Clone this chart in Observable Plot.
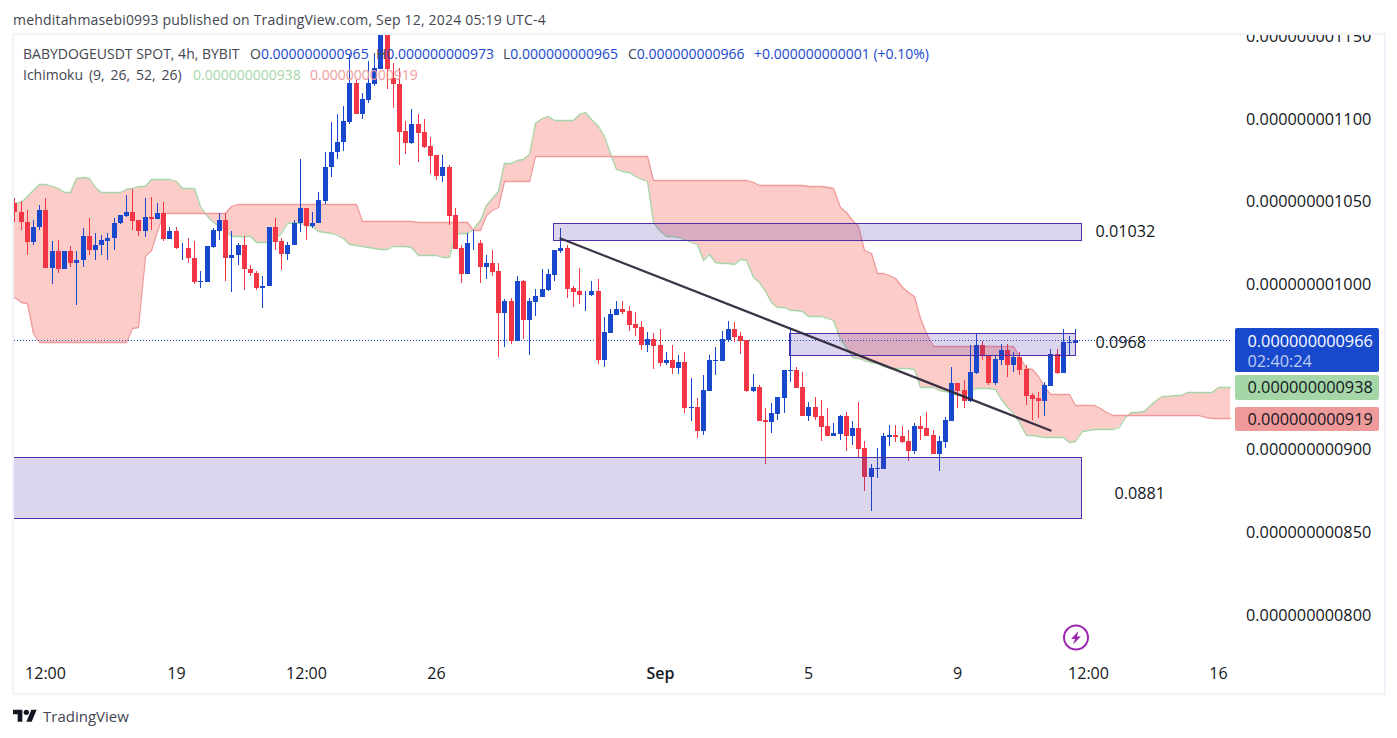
<!DOCTYPE html>
<html>
<head>
<meta charset="utf-8">
<script src="https://cdn.jsdelivr.net/npm/d3@7"></script>
<script src="https://cdn.jsdelivr.net/npm/@observablehq/plot@0.6"></script>
<style>
  html,body{margin:0;padding:0;background:#fff;}
  body{width:1397px;height:738px;position:relative;overflow:hidden;font-family:"Open Sans",sans-serif;color:#131722;}
  #head{position:absolute;left:13px;top:10px;font-size:14px;letter-spacing:.19px;line-height:19px;color:#434651;white-space:nowrap;}
  #chart{position:absolute;left:0;top:34px;}
  #chart svg{overflow:hidden !important;display:block;}
  #frame{position:absolute;left:12px;top:33px;width:1370px;height:658px;border:2px solid #f0f3fa;pointer-events:none;}
  .lg{position:absolute;font-size:14px;line-height:20px;white-space:nowrap;color:#434651;}
  .lg b{font-weight:400;color:#1848cc;}
  #foot{position:absolute;left:43px;top:706px;font-size:15px;line-height:20px;color:#434651;}
</style>
</head>
<body>
<div id="head">mehditahmasebi0993 published on TradingView.com, Sep 12, 2024 05:19 UTC-4</div>
<div id="chart"></div>
<div class="lg" style="left:23px;top:44px">BABYDOGEUSDT SPOT, 4h, BYBIT</div>
<div class="lg" style="left:250px;top:44px">O<b>0.000000000965</b></div>
<div class="lg" style="left:376px;top:44px">H<b>0.000000000973</b></div>
<div class="lg" style="left:503px;top:44px">L<b>0.000000000965</b></div>
<div class="lg" style="left:628px;top:44px">C<b>0.000000000966</b></div>
<div class="lg" style="left:754px;top:44px"><b>+0.000000000001 (+0.10%)</b></div>
<div class="lg" style="left:23px;top:65px;word-spacing:2.2px">Ichimoku (9, 26, 52, 26)</div>
<div class="lg" style="left:193px;top:65px;color:#a5d6a7">0.000000000938</div>
<div class="lg" style="left:310px;top:65px;color:#ef9a9a">0.000000000919</div>
<svg style="position:absolute;left:1062px;top:624px" width="28" height="28" viewBox="0 0 28 28"><circle cx="14" cy="13.5" r="12" fill="none" stroke="#9c27b0" stroke-width="2"/><path d="M16.5 7 L9 15 L13 15 L11 20.5 L19 12.5 L15 12.5 Z" fill="#9c27b0"/></svg>
<div id="frame"></div>
<svg style="position:absolute;left:13px;top:707px" width="24" height="18" viewBox="0 0 36 27"><path d="M14 22H7V11H0V4h14v18zM28 22h-8l7.5-18h8L28 22z" fill="#131722"/><circle cx="20" cy="8" r="4" fill="#131722"/></svg>
<div id="foot">TradingView</div>
<script>
// prices are in units of 1e-12 USDT; bars are 4h candles, counted from the first visible one
const opens=[1048.8,1043.6,1037.5,1025.6,1034.1,1044.8,1009.3,1019.8,1008.7,1019.8,
1012.3,1014.3,1028.9,1020.2,1023.2,1026.2,1027.5,1036.7,1041.2,1043.4,
1038.7,1031.7,1040.4,1039.5,1042.8,1027.2,1031.9,1021.4,1021.6,1015.6,
1001.2,1001.2,1022.4,1032.1,1038.7,1015.4,1017.2,1023.4,1008.9,1006.5,
997.2,998.4,1034.3,1025.8,1018.2,1023.2,1036.5,1045.8,1035.1,1036.5,
1050.0,1070.4,1079.5,1085.5,1098.0,1121.6,1102.9,1111.3,1121.0,1130.1,
1158,1124.4,1121.0,1092.6,1085.1,1096.6,1092.0,1083.3,1077.8,1065.4,
1070.6,1041.8,1021.8,1006.1,1024.4,1024.8,1010.3,1012.7,1007.9,982.5,
989.8,965.6,1001.8,978.3,989.2,992.2,996.4,1005.5,1020.0,1021.8,
997.6,995.8,993.6,993.4,995.8,954.1,970.4,981.3,984.9,983.7,
975.8,974.0,963.1,966.8,963.1,952.2,954.1,949.2,952.9,925.0,
925.6,911.1,935.3,953.5,953.5,966.2,972.8,968.6,966.2,935.3,
937.7,917.8,916.6,921.4,931.1,947.4,948.0,937.7,920.2,925.6,
920.2,914.1,908.1,909.3,920.2,908.1,912.9,900.8,883.3,888.1,
888.1,907.5,908.7,908.1,905.1,899.0,914.1,912.9,908.7,897.2,
904.5,917.2,940.2,935.9,929.3,946.2,963.1,957.1,940.2,954.1,
960.1,951.0,955.9,948.6,932.9,931.1,929.3,938.3,957.7,946.2,
964.5,964.3];
const closes=[1043.2,1037.1,1025.6,1034.3,1044.8,1009.3,1019.8,1008.7,1019.8,1012.3,
1014.3,1028.9,1020.2,1023.4,1026.4,1027.7,1036.7,1041.6,1043.4,1038.3,
1031.7,1040.4,1039.5,1042.8,1027.2,1031.9,1021.4,1021.8,1015.4,1001.2,
1001.6,1022.8,1032.7,1038.7,1015.4,1017.4,1023.4,1008.7,1006.3,997.2,
998.8,1034.3,1025.6,1018.2,1023.4,1036.7,1045.8,1035.1,1036.7,1050.6,
1070.6,1079.7,1085.7,1098.4,1121.6,1102.9,1111.7,1121.6,1130.5,1158,
1130.1,1120.6,1092.0,1085.3,1096.6,1091.4,1082.9,1077.4,1065.4,1070.6,
1041.2,1021.2,1006.1,1024.8,1024.8,1010.3,1012.7,1007.3,982.5,989.8,
965.6,1001.8,978.3,989.8,992.8,997.0,1006.1,1020.6,1021.8,997.0,
995.2,993.4,994.0,995.8,954.1,971.0,981.9,984.9,983.1,975.2,
973.4,963.1,966.8,962.5,952.2,954.1,949.2,952.9,925.0,925.6,
911.1,935.9,954.1,954.1,966.8,972.8,968.0,965.6,935.3,937.7,
917.2,916.6,922.0,931.7,948.0,948.0,937.1,920.2,925.6,919.6,
913.5,908.1,909.9,920.2,908.1,912.9,900.2,883.3,888.7,888.7,
908.1,908.7,907.5,904.5,899.0,914.1,912.3,908.1,897.2,905.1,
917.8,940.2,935.3,929.3,946.8,963.1,956.5,940.2,954.7,960.1,
951.0,955.9,948.0,932.3,930.5,929.3,938.9,957.7,946.2,964.9,
964.9,966.2];
const highs=[1051.8,1049.8,1044.4,1038.7,1047.8,1051.8,1025.8,1026.6,1019.8,1023.0,
1019.8,1033.9,1040.0,1030.9,1029.7,1030.7,1039.8,1041.6,1053.9,1057.5,
1038.7,1051.8,1052.7,1048.8,1049.2,1034.5,1034.5,1024.8,1027.9,1025.8,
1007.9,1022.8,1033.7,1042.8,1042.8,1032.1,1024.6,1029.1,1011.3,1007.7,
1004.9,1034.3,1040.0,1027.6,1025.2,1038.7,1075.4,1045.8,1043.6,1055.5,
1079.7,1097.8,1102.9,1107.5,1138.5,1123.8,1115.3,1134.7,1139.5,1165,
1165,1133.5,1130.5,1098.6,1105.9,1102.6,1099.6,1088.7,1077.8,1078.0,
1071.8,1046.0,1023.6,1030.9,1032.7,1026.6,1017.6,1020.6,1012.7,991.0,
991.6,1004.9,1002.5,991.6,997.0,1009.1,1009.1,1020.6,1033.9,1023.6,
998.8,1009.7,995.8,1001.8,1003.1,980.1,984.9,989.8,989.8,986.7,
983.1,977.6,971.0,970.4,972.8,958.9,963.1,957.1,958.9,943.2,
931.1,945.0,957.1,961.9,971.6,977.6,977.0,971.0,966.2,945.6,
938.9,925.0,928.1,931.7,948.0,973.4,949.8,946.8,928.7,931.7,
929.9,925.0,915.9,920.8,922.6,917.2,928.7,905.1,891.2,900.8,
909.9,914.8,914.8,914.1,911.7,915.9,920.2,922.6,911.7,908.1,
919.6,949.8,940.2,942.0,963.1,970.2,965.5,957.1,956.5,963.7,
963.7,958.9,958.9,951.0,934.1,934.7,940.8,960.7,960.7,972.8,
968.6,972.8];
const lows=[1037.7,1032.3,1017.2,1023.2,1032.3,1009.3,1000.2,1006.3,1008.7,1009.9,
986.9,1009.9,1017.6,1014.5,1017.2,1014.5,1020.2,1036.3,1040.4,1032.7,
1029.1,1028.1,1032.3,1039.5,1026.2,1027.2,1020.8,1014.5,1012.9,1000.2,
997.2,1001.2,1021.8,1026.6,1001.8,994.8,1011.3,996.0,1004.5,996.0,
985.1,998.4,1020.2,1008.1,1014.5,1023.2,1031.1,1026.6,1033.9,1036.5,
1048.2,1064.8,1075.8,1080.5,1096.8,1102.9,1099.8,1109.5,1119.8,1130.1,
1118.0,1106.5,1072.0,1078.7,1084.5,1073.8,1082.1,1066.6,1062.9,1061.7,
1035.7,1021.2,1000.6,1006.1,1020.6,1000.6,1003.1,1004.9,955.9,961.9,
963.7,965.6,966.8,957.1,980.7,992.2,995.8,1001.8,1018.8,991.6,
986.1,987.9,983.7,992.8,951.6,949.8,970.4,981.3,981.9,971.6,
968.6,960.1,958.9,948.6,950.4,951.0,945.6,945.6,922.0,917.2,
906.9,908.7,935.3,945.0,953.5,964.9,964.9,957.7,934.7,934.7,
917.2,891.2,909.9,917.8,922.0,940.7,937.1,920.2,917.2,917.8,
905.1,908.1,908.1,905.7,899.0,902.7,895.4,874.8,862.7,882.7,
888.1,902.1,904.5,903.9,893.0,897.2,905.7,908.1,897.2,886.9,
900.8,917.2,925.0,925.0,928.7,945.6,954.1,938.9,938.9,951.0,
943.8,946.8,945.0,926.9,917.8,919.0,920.2,938.3,945.6,946.2,
957.1,964.3];
const spanA=[1048.8,1049.4,1052.9,1056.9,1060.3,1060.3,1059.1,1057.7,1055.7,1055.7,
1063.9,1064.9,1063.9,1058.7,1055.7,1055.7,1055.7,1055.7,1057.3,1057.7,
1059.3,1059.3,1063.5,1063.5,1063.5,1063.3,1061.9,1057.9,1057.9,1057.9,
1046.8,1040.8,1037.7,1034.7,1032.7,1028.9,1028.9,1028.9,1028.9,1025.6,
1025.4,1025.4,1027.5,1030.5,1036.7,1037.7,1036.7,1035.7,1034.7,1031.7,
1031.3,1030.7,1029.5,1027.5,1024.2,1023.4,1022.8,1022.0,1021.4,1020.8,
1021.0,1022.6,1022.6,1022.6,1022.4,1017.6,1017.6,1017.4,1017.2,1016.4,
1016.2,1030.3,1030.5,1030.5,1033.1,1038.7,1047.8,1051.8,1056.3,1073.0,
1073.0,1074.8,1075.4,1078.5,1097.2,1100.4,1101.4,1099.0,1099.0,1099.0,
1099.0,1102.6,1103.7,1100.0,1095.2,1089.7,1079.1,1069.4,1068.4,1067.6,
1065.4,1063.7,1062.5,1037.7,1031.7,1028.7,1028.7,1028.5,1027.0,1025.6,
1024.2,1014.6,1017.8,1013.1,1012.9,1012.9,1011.7,1014.8,1014.3,1004.1,
1001.4,995.8,989.1,985.9,985.7,984.1,984.1,983.7,980.3,980.3,
980.3,979.1,977.9,966.6,961.5,955.7,955.1,953.7,952.5,952.1,
950.6,949.0,949.0,949.0,949.0,948.2,937.5,937.3,937.3,935.9,
934.9,933.7,932.9,932.9,934.9,936.7,936.7,936.7,936.3,930.5,
925.8,921.8,916.2,908.7,908.3,907.9,907.5,907.3,907.1,907.1,
904.1,904.7,911.1,911.7,911.9,912.1,912.3,912.5,913.7,919.2,
922.4,922.4,922.8,926.6,929.9,931.9,932.3,932.7,932.9,934.7,
934.7,934.7,934.7,934.7,937.5,937.7,937.7];
const spanB=[992.0,988.9,988.3,970.2,965.0,965.0,965.0,965.0,965.0,965.0,
965.0,965.0,965.0,965.0,965.0,965.0,965.0,965.0,965.0,973.2,
973.8,1016.6,1020.6,1031.7,1042.8,1042.8,1042.8,1042.8,1042.8,1042.8,
1042.8,1042.8,1042.8,1042.8,1042.8,1046.8,1048.4,1048.4,1048.4,1048.4,
1048.4,1048.4,1048.4,1048.4,1048.4,1048.4,1048.4,1048.4,1048.4,1048.4,
1048.4,1048.4,1048.4,1048.4,1048.4,1048.0,1037.9,1037.9,1037.9,1037.9,
1037.9,1037.9,1037.9,1037.9,1037.9,1037.1,1037.1,1037.1,1037.1,1037.1,
1037.1,1037.1,1037.1,1037.1,1032.5,1032.5,1041.6,1044.4,1046.6,1062.3,
1062.3,1062.3,1062.3,1062.3,1077.4,1077.4,1077.4,1077.4,1077.4,1077.4,
1077.4,1077.4,1077.4,1077.4,1077.4,1077.4,1077.4,1077.4,1077.4,1077.4,
1077.4,1077.4,1077.4,1062.9,1062.9,1062.9,1062.9,1062.9,1062.9,1062.9,
1062.9,1062.9,1062.9,1062.9,1062.9,1062.9,1062.9,1062.9,1062.9,1061.3,
1059.9,1059.9,1059.9,1059.9,1059.9,1059.9,1059.9,1059.9,1059.1,1059.1,
1059.1,1058.3,1057.9,1046.2,1043.2,1038.7,1034.7,1020.6,1018.4,1006.5,
1006.5,1005.1,1003.5,998.0,994.8,992.4,979.3,970.2,962.3,962.3,
962.3,962.3,962.3,962.3,962.3,962.3,962.3,962.3,962.3,962.3,
962.3,962.3,956.1,949.0,948.6,944.0,938.3,933.3,933.3,933.3,
933.3,926.6,926.6,926.6,926.6,924.8,922.6,920.6,920.6,920.6,
920.6,920.6,920.6,920.6,920.6,920.6,920.6,920.6,920.6,920.6,
920.6,920.6,919.6,918.6,918.6,918.6,918.6];

const xTickBars=[5,26,47,68,128,152,173,194];
const xTickText=["12:00","19","12:00","26","5","9","12:00","16"];
const monthBars=[104];
const monthText=["Sep"];
const yTicks=[1150,1100,1050,1000,900,850,800];
const lastPrice=966;

const boxBar1=[86.8,124.9,-1];
const boxBar2=[171.9,171,171.9];
const boxTop=[1036.7,970.2,895.2];
const boxBottom=[1026.4,956.9,858.3];
const noteBar=[174.2,174.2,177.3];
const notePrice=[1032,964.9,873.6];
const noteText=["0.01032","0.0968","0.0881"];
const trendBar=[88,167];
const trendPrice=[1027.6,911.7];

const tagBar1=196.7, tagBar2=219.9, tagTextBar=198.65;
const tagTop=[973.4,945,925.6];
const tagBottom=[946.4,930,910.7];
const tagPrice=[966,938,919];
const tagFill=["#1848cc","#a5d6a7","#ef9a9a"];
const tagText=["0.000000000966","0.000000000938","0.000000000919"];
const tagInk=["#ffffff","#131722","#131722"];
const countdownPrice=953.2, countdownText="02:40:24";

const UP="#1848cc", DOWN="#f23645";
const candles=opens.map((o,j)=>({i:j,open:o,close:closes[j],high:highs[j],low:lows[j]}));
const cloud=spanA.map((a,j)=>({i:j,a,b:spanB[j]}));
const boxes=boxTop.map((t,j)=>({x1:boxBar1[j],x2:boxBar2[j],t,b:boxBottom[j]}));
const notes=noteText.map((t,j)=>({x:noteBar[j],y:notePrice[j],t}));
const trend=trendBar.map((x,j)=>({x,y:trendPrice[j]}));
const tags=tagPrice.map((p,j)=>({p,top:tagTop[j],bot:tagBottom[j],fill:tagFill[j],text:tagText[j],ink:tagInk[j]}));
const isUp=d=>d.close>=d.open;
const candleMarks=(test,color)=>[
  Plot.ruleX(candles,{filter:test,x:"i",y1:"low",y2:"high",stroke:color,strokeWidth:1,clip:"frame"}),
  Plot.ruleX(candles,{filter:test,x:"i",y1:"open",y2:"close",stroke:color,strokeWidth:5,clip:"frame"})
];
const fmt=d=>"0."+String(d).padStart(12,"0");
const xLabel=d=>xTickText[xTickBars.indexOf(d)];
const mLabel=d=>monthText[monthBars.indexOf(d)];

const chart=Plot.plot({
  width:1397,height:660,
  marginLeft:14,marginRight:166,marginTop:0,marginBottom:36,
  style:{fontFamily:"'Open Sans',sans-serif",fontSize:"16px",color:"#131722",background:"#fff"},
  x:{domain:[0,171],range:[14.3,1075.3],round:true,axis:null},
  y:{domain:[800,1100],range:[580.5,84.5],round:true,axis:null},
  marks:[
    Plot.areaY(cloud,{x:"i",y1:"a",y2:"b",fill:"#f44336",fillOpacity:0.27,curve:"linear",clip:"frame"}),
    Plot.line(cloud,{x:"i",y:"a",stroke:"#a5d6a7",strokeWidth:1.3,clip:"frame"}),
    Plot.line(cloud,{x:"i",y:"b",stroke:"#ef9a9a",strokeWidth:1.3,clip:"frame"}),
    Plot.ruleY([lastPrice],{stroke:UP,strokeDasharray:"1,2",strokeWidth:1}),
    ...candleMarks(d=>!isUp(d),DOWN),
    ...candleMarks(isUp,UP),
    Plot.rect(boxes,{x1:"x1",x2:"x2",y1:"t",y2:"b",fill:"#512da8",fillOpacity:0.2,stroke:"#512da8",strokeWidth:1,dx:0.5,dy:0.5,clip:"frame"}),
    Plot.line(trend,{x:"x",y:"y",stroke:"#2a2438",strokeWidth:2.2,strokeOpacity:0.92,clip:"frame"}),
    Plot.text(notes,{x:"x",y:"y",text:"t",textAnchor:"start",fill:"#131722",fontSize:16.2}),
    Plot.axisX(xTickBars,{anchor:"bottom",tickSize:0,tickPadding:9,tickFormat:xLabel,label:null,fontSize:16,fill:"#131722"}),
    Plot.axisX(monthBars,{anchor:"bottom",tickSize:0,tickPadding:9,tickFormat:mLabel,label:null,fontSize:16,fontWeight:600,fill:"#131722"}),
    Plot.axisY(yTicks,{anchor:"right",tickSize:0,tickPadding:14.5,tickFormat:fmt,label:null,fontSize:16.3,fill:"#131722"}),
    Plot.rect(tags,{x1:()=>tagBar1,x2:()=>tagBar2,y1:"top",y2:"bot",fill:d=>d.fill,rx:2}),
    Plot.text(tags,{x:()=>tagTextBar,y:"p",text:"text",fill:d=>d.ink,textAnchor:"start",fontSize:16.3,dy:1}),
    Plot.text([countdownText],{x:()=>tagTextBar,y:()=>countdownPrice,text:d=>d,fill:"#c0cdf2",textAnchor:"start",fontSize:16.3})
  ]
});
document.getElementById("chart").appendChild(chart);
</script>
</body>
</html>
